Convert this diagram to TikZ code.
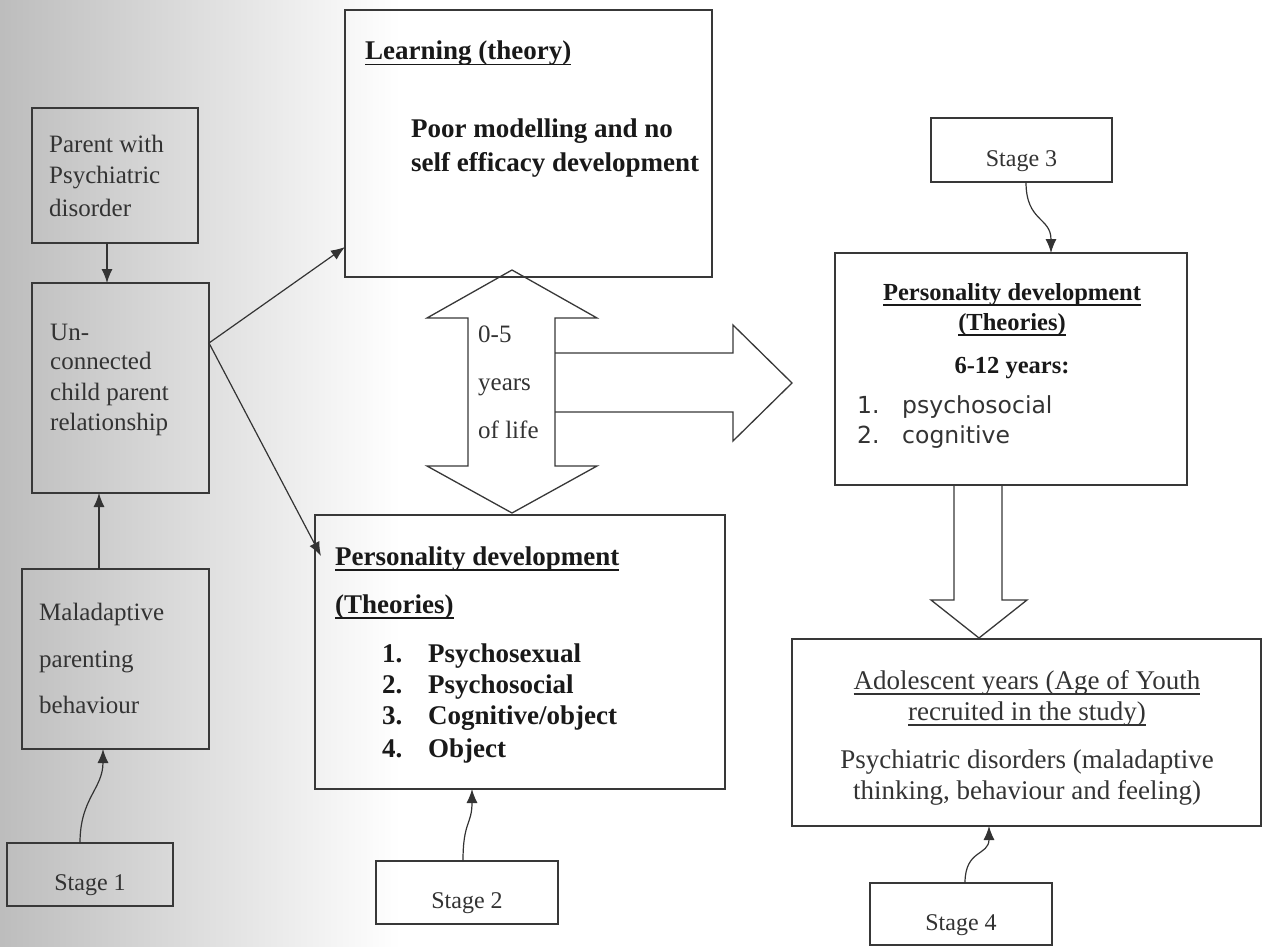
\documentclass[tikz,border=0pt]{standalone}
\usepackage{fontspec}
\setmainfont{Liberation Serif}
\newfontfamily\listsans{DejaVu Sans}
\usetikzlibrary{arrows.meta}
\newcommand{\myul}[1]{\setbox0\hbox{#1}\rlap{\rule[-5.5pt]{\wd0}{1.1pt}}\box0}
\newcommand{\fsL}{\fontsize{25}{30}\selectfont}
\newcommand{\fsS}{\fontsize{24}{28}\selectfont}
\newcommand{\fsB}{\fontsize{27}{31}\selectfont\bfseries}
\newcommand{\fsBL}{\fontsize{27}{32}\selectfont\bfseries}
\newcommand{\fsR}{\fontsize{24.5}{29}\selectfont\bfseries}
\newcommand{\fsA}{\fontsize{27}{32}\selectfont}
\newcommand{\fsSans}{\listsans\fontsize{23.5}{28}\selectfont}
\begin{document}
\begin{tikzpicture}[x=1pt,y=-1pt,
  box/.style={draw=black!78, line width=1.3pt, inner sep=0pt, outer sep=0pt},
  blk/.style={draw=black!78, line width=1.3pt, line join=miter},
  arr/.style={draw=black!80, line width=1.2pt, -{Latex[length=14pt,width=11pt]}},
  tl/.style={anchor=base west, inner sep=0pt, text=black!80},
  tc/.style={anchor=base, inner sep=0pt, text=black!80},
  tb/.style={anchor=base west, inner sep=0pt, text=black!90},
  tbc/.style={anchor=base, inner sep=0pt, text=black!90}]
\useasboundingbox (0,0) rectangle (1270,947);
\fill[white] (0,0) rectangle (1270,947);
\shade[left color=black!26, right color=white] (0,0) rectangle (400,947);

% boxes
\node[box, minimum width=166pt, minimum height=135pt] (parent) at (115,175.5) {};
\node[box, minimum width=177pt, minimum height=210pt] (uncon) at (120.5,388) {};
\node[box, minimum width=187pt, minimum height=180pt] (malad) at (115.5,659) {};
\node[box, minimum width=166pt, minimum height=63pt] (stage1) at (90,874.5) {};
\node[box, minimum width=367pt, minimum height=267pt] (learn) at (528.5,143.5) {};
\node[box, minimum width=410pt, minimum height=274pt] (pers) at (520,652) {};
\node[box, minimum width=182pt, minimum height=63pt] (stage2) at (467,892.5) {};
\node[box, minimum width=181pt, minimum height=64pt] (stage3) at (1021.5,150) {};
\node[box, minimum width=352pt, minimum height=232pt] (persR) at (1011,369) {};
\node[box, minimum width=469pt, minimum height=187pt] (adol) at (1026.5,732.5) {};
\node[box, minimum width=182pt, minimum height=62pt] (stage4) at (961,914) {};

% block arrows
\draw[blk] (512,270) -- (597,318) -- (555,318) -- (555,466) -- (597,466) -- (512,513)
  -- (427,466) -- (468,466) -- (468,318) -- (427,318) -- cycle;
\draw[blk] (555,353) -- (733,353) -- (733,325) -- (792,383) -- (733,441) -- (733,412) -- (555,412);
\draw[blk] (954,485) -- (954,600) -- (931,600) -- (979,638) -- (1027,600) -- (1002,600) -- (1002,485);

% connectors
\coordinate (p1) at ([xshift=-8pt]parent.south);
\draw[arr] (p1) -- (p1 |- uncon.north);
\coordinate (m1) at ([xshift=-16.5pt]malad.north);
\draw[arr] (m1) -- (m1 |- uncon.south);
\draw[arr] ([yshift=45pt]uncon.east) -- ([yshift=-103.5pt]learn.west);
\draw[arr] ([yshift=45pt]uncon.east) -- ([xshift=6pt,yshift=96pt]pers.west);
\draw[arr] ([xshift=-10pt]stage1.north) .. controls +(0,-45) and +(0,40) .. ([xshift=-12.5pt]malad.south);
\draw[arr] ([xshift=-4pt]stage2.north) .. controls +(0,-40) and +(0,36) .. ([xshift=-48pt]pers.south);
\draw[arr] ([xshift=4.5pt]stage3.south) .. controls +(0,40) and +(0,-36) .. ([xshift=40pt]persR.north);
\draw[arr] ([xshift=4pt]stage4.north) .. controls +(0,-34) and +(0,30) .. ([xshift=-37.5pt]adol.south);

% left column texts
\node[tl, font=\fsL] (tp1) at (49,153) {Parent with};
\node[tl, font=\fsL] (tp2) at (49,184) {Psychiatric};
\node[tl, font=\fsL] (tp3) at (49,216) {disorder};
\node[tl, font=\fsL] (tu1) at (50,340) {Un-};
\node[tl, font=\fsL] (tu2) at (50,369) {connected};
\node[tl, font=\fsL] (tu3) at (50,400) {child parent};
\node[tl, font=\fsL] (tu4) at (50,430) {relationship};
\node[tl, font=\fsL] (tm1) at (39,620) {Maladaptive};
\node[tl, font=\fsL] (tm2) at (39,667) {parenting};
\node[tl, font=\fsL] (tm3) at (39,713) {behaviour};
\node[tc, font=\fsS] (ts1) at ([yshift=-16pt]stage1.center) {Stage 1};

% learning box
\node[tb, font=\fsB] (tl1) at (365,60) {\myul{Learning (theory)}};
\node[tb, font=\fsB] (tl2) at (411,138) {Poor modelling and no};
\node[tb, font=\fsB] (tl3) at (411,172) {self efficacy development};

% double arrow text
\node[tl, font=\fsL] (ty1) at (478,342) {0-5};
\node[tl, font=\fsL] (ty2) at (478,390) {years};
\node[tl, font=\fsL] (ty3) at (478,438) {of life};

% personality stage 2
\node[tb, font=\fsB] (tq1) at (335,565) {\myul{Personality development}};
\node[tb, font=\fsB] (tq2) at (335,613) {\myul{(Theories)}};
\node[tb, font=\fsBL] (tq3n) at (382,662) {1.};
\node[tb, font=\fsBL] (tq3) at (428,662) {Psychosexual};
\node[tb, font=\fsBL] (tq4n) at (382,693) {2.};
\node[tb, font=\fsBL] (tq4) at (428,693) {Psychosocial};
\node[tb, font=\fsBL] (tq5n) at (382,724) {3.};
\node[tb, font=\fsBL] (tq5) at (428,724) {Cognitive/object};
\node[tb, font=\fsBL] (tq6n) at (382,757) {4.};
\node[tb, font=\fsBL] (tq6) at (428,757) {Object};
\node[tc, font=\fsS] (ts2) at ([yshift=-15.5pt]stage2.center) {Stage 2};

% right column
\node[tc, font=\fsS] (ts3) at ([yshift=-17pt]stage3.center) {Stage 3};
\node[tbc, font=\fsR] (tr1) at (1012,300) {\myul{Personality development}};
\node[tbc, font=\fsR] (tr2) at (1012,330) {\myul{(Theories)}};
\node[tbc, font=\fsR] (tr3) at (1012,373) {6-12 years:};
\node[tl, font=\fsSans] (tr4n) at (857,413) {1.};
\node[tl, font=\fsSans] (tr4) at (902,413) {psychosocial};
\node[tl, font=\fsSans] (tr5n) at (857,443) {2.};
\node[tl, font=\fsSans] (tr5) at (902,443) {cognitive};

\node[tc, font=\fsA] (ta1) at (1027,689) {\myul{Adolescent years (Age of Youth}};
\node[tc, font=\fsA] (ta2) at (1027,720) {\myul{recruited in the study)}};
\node[tc, font=\fsA] (ta3) at (1027,768) {Psychiatric disorders (maladaptive};
\node[tc, font=\fsA] (ta4) at (1027,799) {thinking, behaviour and feeling)};
\node[tc, font=\fsS] (ts4) at ([yshift=-16.5pt]stage4.center) {Stage 4};
\end{tikzpicture}
\end{document}
